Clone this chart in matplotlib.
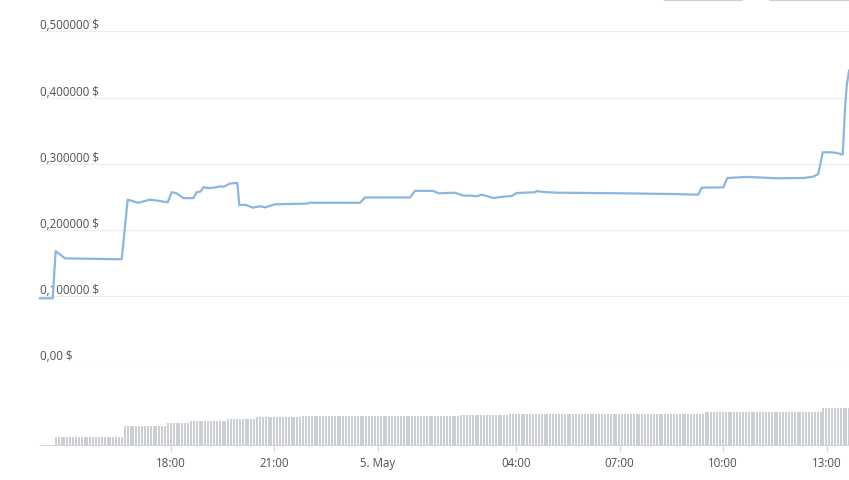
import numpy as np
import matplotlib
matplotlib.use("Agg")
import matplotlib.pyplot as plt
from matplotlib import transforms
from matplotlib.lines import Line2D

# ore dal 4 maggio 00:00 (24 = mezzanotte del 5 maggio)
ore = [14.203, 14.571, 14.658, 14.928, 16.571, 16.745, 17.052, 17.391, 17.632, 17.904,
       18.020, 18.165, 18.357, 18.646, 18.745, 18.861, 18.936, 19.130, 19.470, 19.516,
       19.710, 19.922, 19.980, 20.174, 20.368, 20.580, 20.725, 21.014, 21.933, 22.029,
       23.478, 23.623, 24.928, 25.072, 25.603, 25.748, 26.232, 26.472, 26.716, 26.861,
       27.006, 27.342, 27.632, 27.875, 28.020, 28.551, 28.600, 28.791, 29.180, 31.014,
       32.559, 33.284, 33.383, 34.009, 34.125, 34.687, 35.557, 36.328, 36.617, 36.762,
       36.890, 37.151, 37.296, 37.470, 37.536, 37.586, 37.652]
prezzo = [0.0967, 0.0967, 0.1680, 0.1570, 0.1556, 0.2456, 0.2410, 0.2456, 0.2440, 0.2417,
          0.2570, 0.2553, 0.2480, 0.2480, 0.2570, 0.2580, 0.2643, 0.2630, 0.2660, 0.2650,
          0.2700, 0.2710, 0.2377, 0.2377, 0.2336, 0.2357, 0.2340, 0.2387, 0.2397, 0.2410,
          0.2410, 0.2490, 0.2490, 0.2590, 0.2588, 0.2553, 0.2562, 0.2517, 0.2517, 0.2508,
          0.2532, 0.2482, 0.2502, 0.2512, 0.2557, 0.2568, 0.2588, 0.2573, 0.2562, 0.2553,
          0.2542, 0.2532, 0.2638, 0.2643, 0.2784, 0.2800, 0.2780, 0.2784, 0.2804, 0.2845,
          0.3172, 0.3172, 0.3162, 0.3137, 0.3827, 0.4180, 0.4405]

# volume a barre da 5 minuti: livelli e numero di barre per livello
vol_livelli = [0, 8, 19, 22, 24, 26, 28, 29, 30, 31, 33, 37, 46]
vol_barre = [5, 24, 15, 8, 13, 10, 16, 55, 17, 68, 41, 10, 2]
vol_inizio = 14.203

y_ticks = [0.0, 0.1, 0.2, 0.3, 0.4, 0.5]
y_labels = ["0,00 $", "0,100000 $", "0,200000 $", "0,300000 $", "0,400000 $", "0,500000 $"]
x_ticks = [18, 21, 24, 28, 31, 34, 37]
x_labels = ["18:00", "21:00", "5. May", "04:00", "07:00", "10:00", "13:00"]

W, H = 849, 481
fig = plt.figure(figsize=(W / 100, H / 100), dpi=100)
plt.rcParams['font.family'] = ['Open Sans', 'DejaVu Sans']

x0, x1 = 40, 849
ax = fig.add_axes([x0 / W, (H - 363.3) / H, (x1 - x0) / W, 331 / H])
ax.set_xlim(ore[0], ore[-1])
ax.set_ylim(0, 0.5)
ax.axis("off")
for v, lab in zip(y_ticks, y_labels):
    ax.axhline(v, color="#ececec", lw=0.8, zorder=0)
    tr = transforms.offset_copy(ax.get_yaxis_transform(), fig=fig, x=0, y=0, units="dots")
    ax.text(0, v, lab, transform=tr, ha="left", va="bottom", fontsize=8.3, color="#505050")
ax.plot(ore, prezzo, color="#8ab7e0", lw=1.6, solid_joinstyle="round", zorder=3, clip_on=False)

# pannello volume
axv = fig.add_axes([x0 / W, (H - 446) / H, (x1 - x0) / W, 65 / H])
vol = np.repeat(vol_livelli, vol_barre)
passo = 1 / 12
t_barre = vol_inizio + passo * (np.arange(len(vol)) + 0.5)
axv.bar(t_barre, vol, width=passo * 0.7, color="#cbcfd4", linewidth=0)
axv.set_xlim(ore[0], ore[-1])
axv.set_ylim(0, 65)
for s in ["top", "right", "left"]:
    axv.spines[s].set_visible(False)
axv.spines["bottom"].set_color("#d6d6d6")
axv.spines["bottom"].set_linewidth(0.8)
axv.set_yticks([])
axv.set_xticks(x_ticks)
axv.set_xticklabels(x_labels)
axv.tick_params(axis="x", length=5, width=0.8, color="#d0d8e8", labelsize=8.3,
                labelcolor="#505050", pad=3)

# bordi dei pulsanti tagliati in alto a destra
fig.add_artist(Line2D([665 / W, 742 / W], [1 - 1 / H, 1 - 1 / H], color="#cccccc", lw=1.5))
fig.add_artist(Line2D([770 / W, 849 / W], [1 - 1 / H, 1 - 1 / H], color="#cccccc", lw=1.5))

fig.savefig("out.png", dpi=100)
